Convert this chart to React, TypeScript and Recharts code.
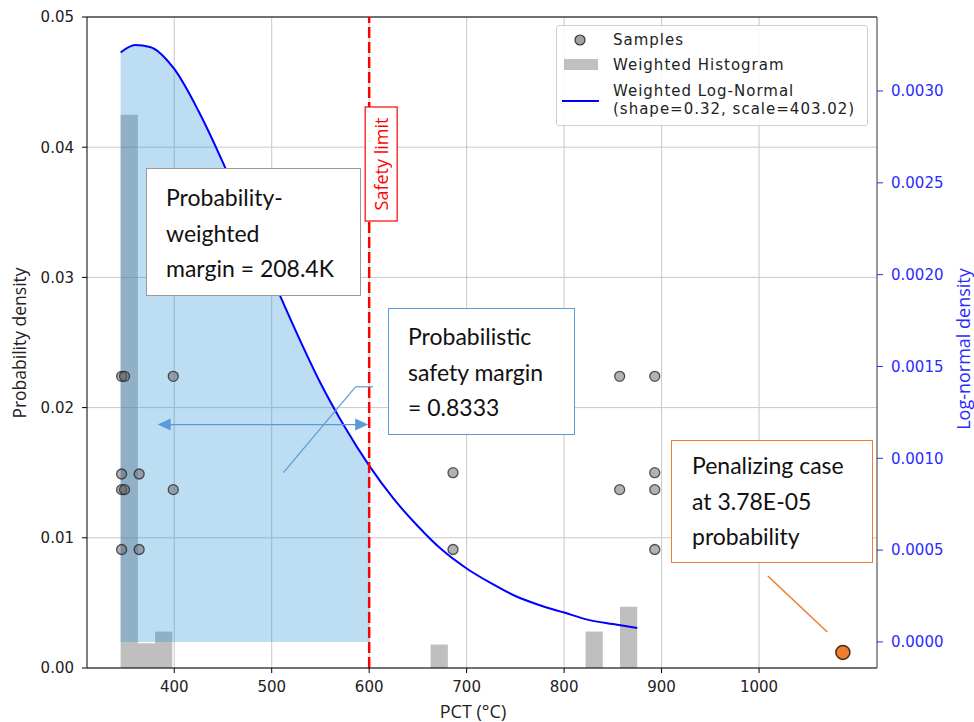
import React from 'react';
import {
  ComposedChart,
  Line,
  Area,
  Scatter,
  XAxis,
  YAxis,
  CartesianGrid,
  ReferenceArea,
  ReferenceLine,
} from 'recharts';

// axis ticks
const pctTicks = [400, 500, 600, 700, 800, 900, 1000];
const densityTicks = [0, 0.01, 0.02, 0.03, 0.04, 0.05];
const logNormalTicks = [0, 0.0005, 0.001, 0.0015, 0.002, 0.0025, 0.003];

// weighted log-normal curve
const curvePct = [345, 360, 375, 400, 425, 450, 475, 500, 525, 550, 575, 600, 625, 650, 675, 700, 725, 750, 775, 800, 825, 850, 875];
const curveDensity = [0.00321, 0.00325, 0.00324, 0.00312, 0.00289, 0.00261, 0.0023, 0.00199, 0.00169, 0.00141, 0.00117, 0.00096, 0.00078, 0.00063, 0.0005, 0.0004, 0.00032, 0.00025, 0.0002, 0.00016, 0.00012, 0.000097, 0.000076];

// samples (left axis)
const samplePct = [346, 349, 399, 346, 364, 346, 349, 399, 346, 364, 686, 686, 857, 857, 893, 893, 893, 893];
const sampleDensity = [0.0224, 0.0224, 0.0224, 0.0149, 0.0149, 0.0137, 0.0137, 0.0137, 0.0091, 0.0091, 0.015, 0.0091, 0.0224, 0.0137, 0.0224, 0.015, 0.0137, 0.0091];

// weighted histogram bins
const binStart = [345, 362.7, 380.3, 663, 822, 857.3];
const binEnd = [362.7, 380.3, 398, 680.7, 839.7, 875];
const binHeight = [0.0425, 0.0019, 0.0028, 0.0018, 0.0028, 0.0047];

const safetyLimit = 600;
const penalizingPct = [1086];
const penalizingDensity = [0.0012];

// annotation anchors (data coords, left axis)
const marginArrow = [{ x: 383, y: 0.0187 }, { x: 599, y: 0.0187 }];
const leaderA = [{ x: 512, y: 0.015 }, { x: 586, y: 0.0216 }];
const leaderB = [{ x: 586, y: 0.0216 }, { x: 604, y: 0.0216 }];
const penalLeader = [{ x: 1009, y: 0.00706 }, { x: 1070, y: 0.00276 }];

const curve = curvePct.map((x, i) => ({ x, pdf: curveDensity[i] }));
const shaded = curve.filter((d) => d.x <= safetyLimit);
const samples = samplePct.map((x, i) => ({ x, y: sampleDensity[i] }));
const penalizing = penalizingPct.map((x, i) => ({ x, y: penalizingDensity[i] }));

const TICK_FONT = 'DejaVu Sans';
const NOTE_FONT = 'Lato';
const BLUE_NOTE = '#5b9bd5';

const SampleDot = (p: any) => (
  <circle cx={p.cx} cy={p.cy} r={5} fill="#666" fillOpacity={0.5} stroke="#222" strokeOpacity={0.75} strokeWidth={1.3} />
);

const PenalDot = (p: any) => (
  <circle cx={p.cx} cy={p.cy} r={7} fill="#ed7d31" stroke="#4a2a10" strokeWidth={1.5} />
);

const DoubleArrow = (p: any) => {
  const { x1, y1, x2, y2 } = p;
  return (
    <g>
      <line x1={x1 + 8} y1={y1} x2={x2 - 8} y2={y2} stroke={BLUE_NOTE} strokeWidth={1.2} />
      <polygon points={`${x1},${y1} ${x1 + 13},${y1 - 6} ${x1 + 13},${y1 + 6}`} fill={BLUE_NOTE} />
      <polygon points={`${x2},${y2} ${x2 - 13},${y2 - 6} ${x2 - 13},${y2 + 6}`} fill={BLUE_NOTE} />
    </g>
  );
};

const plainLine = (color: string, w: number) => (p: any) => (
  <line x1={p.x1} y1={p.y1} x2={p.x2} y2={p.y2} stroke={color} strokeWidth={w} />
);

const SafetyLabel = (p: any) => {
  const vb = p.viewBox || {};
  const cx = vb.x + 12;
  const cy = vb.y + 147;
  return (
    <g>
      <rect x={cx - 16} y={cy - 57} width={32} height={114} fill="#fff" stroke="#ff0000" strokeWidth={1.2} />
      <text
        x={cx}
        y={cy}
        transform={`rotate(-90 ${cx} ${cy})`}
        textAnchor="middle"
        dominantBaseline="central"
        fontFamily="Open Sans"
        fontSize={18}
        fill="#ff0000"
      >
        Safety limit
      </text>
    </g>
  );
};

const XLabel = (p: any) => {
  const vb = p.viewBox;
  return (
    <text x={vb.x + 386} y={vb.y + 50} textAnchor="middle" fontFamily="Open Sans" fontSize={18} fill="#222">
      PCT (°C)
    </text>
  );
};

const LeftLabel = () => (
  <text x={11} y={335} transform="rotate(-90 11 335)" textAnchor="middle" dominantBaseline="central" fontFamily="Open Sans" fontSize={17.5} fill="#222">
    Probability density
  </text>
);

const RightLabel = () => (
  <text x={955} y={341} transform="rotate(-90 955 341)" textAnchor="middle" dominantBaseline="central" fontFamily="Open Sans" fontSize={18} fill="#2b2bff">
    Log-normal density
  </text>
);

const noteText: React.CSSProperties = {
  position: 'absolute',
  fontFamily: NOTE_FONT,
  fontSize: 23,
  lineHeight: '35.5px',
  color: '#111',
  background: '#fff',
  boxSizing: 'border-box',
  whiteSpace: 'nowrap',
};

const legendText: React.CSSProperties = {
  position: 'absolute',
  left: 56,
  fontFamily: TICK_FONT,
  fontSize: 15,
  letterSpacing: 1,
  color: '#222',
  lineHeight: '18px',
  whiteSpace: 'nowrap',
};

export default function App() {
  // absolute so the 8px body margin below the chart does not add a scrollbar
  return (
    <div style={{ position: 'absolute', left: 8, top: 8, width: 966, height: 714 }}>
      <ComposedChart width={966} height={714} margin={{ top: 9, right: 0, bottom: 0, left: 0 }}>
        <CartesianGrid yAxisId="left" stroke="#c8c8c8" strokeWidth={1} verticalValues={pctTicks} horizontalValues={densityTicks} />
        <XAxis
          type="number"
          dataKey="x"
          domain={[310.5, 1121]}
          ticks={pctTicks}
          allowDataOverflow
          height={54}
          tickSize={5}
          tickMargin={8}
          stroke="#000"
          tick={{ fontFamily: TICK_FONT, fontSize: 15, fill: '#222' }}
          label={{ content: XLabel }}
        />
        <YAxis
          yAxisId="left"
          type="number"
          domain={[0, 0.05]}
          ticks={densityTicks}
          allowDataOverflow
          width={79}
          tickSize={5}
          tickMargin={8}
          stroke="#000"
          tickFormatter={(v: number) => v.toFixed(2)}
          tick={{ fontFamily: TICK_FONT, fontSize: 15, fill: '#222' }}
          label={{ content: LeftLabel }}
        />
        <YAxis
          yAxisId="right"
          orientation="right"
          type="number"
          domain={[-0.000142, 0.003403]}
          ticks={logNormalTicks}
          allowDataOverflow
          width={97}
          tickSize={6}
          tickMargin={8}
          axisLine={{ stroke: '#333' }}
          tickLine={{ stroke: '#2b2bff' }}
          tickFormatter={(v: number) => v.toFixed(4)}
          tick={{ fontFamily: TICK_FONT, fontSize: 15, fill: '#2b2bff' }}
          label={{ content: RightLabel }}
        />
        <ReferenceLine yAxisId="left" y={0.05} stroke="#000" strokeWidth={1} />

        {binStart.map((s, i) => (
          <ReferenceArea
            key={`bin-${i}`}
            yAxisId="left"
            x1={s}
            x2={binEnd[i]}
            y1={0}
            y2={binHeight[i]}
            fill="#808080"
            fillOpacity={0.5}
            stroke="none"
          />
        ))}

        <Scatter yAxisId="left" data={samples} dataKey="y" shape={SampleDot} isAnimationActive={false} />

        <Area
          yAxisId="right"
          data={shaded}
          dataKey="pdf"
          type="monotone"
          stroke="none"
          fill="#2390d8"
          fillOpacity={0.3}
          baseValue={0}
          isAnimationActive={false}
        />
        <Line
          yAxisId="right"
          data={curve}
          dataKey="pdf"
          type="monotone"
          stroke="#0000ff"
          strokeWidth={2}
          dot={false}
          isAnimationActive={false}
        />

        <ReferenceLine
          yAxisId="left"
          x={safetyLimit}
          stroke="#ff0000"
          strokeWidth={2.5}
          strokeDasharray="11 4"
          label={{ content: SafetyLabel }}
        />

        <ReferenceLine yAxisId="left" segment={marginArrow} shape={DoubleArrow} />
        <ReferenceLine yAxisId="left" segment={leaderA} shape={plainLine(BLUE_NOTE, 1.2)} />
        <ReferenceLine yAxisId="left" segment={leaderB} shape={plainLine(BLUE_NOTE, 1.2)} />
        <ReferenceLine yAxisId="left" segment={penalLeader} shape={plainLine('#ed7d31', 1.5)} />

        <Scatter yAxisId="left" data={penalizing} dataKey="y" shape={PenalDot} isAnimationActive={false} />
      </ComposedChart>

      {/* legend */}
      <div
        style={{
          position: 'absolute',
          left: 548,
          top: 17,
          width: 312,
          height: 101,
          border: '1px solid #d0d0d0',
          borderRadius: 3,
          background: 'rgba(255,255,255,0.85)',
          boxSizing: 'border-box',
        }}
      >
        <svg width={310} height={99} style={{ position: 'absolute', left: 0, top: 0 }}>
          <circle cx={23} cy={14} r={5} fill="#666" fillOpacity={0.6} stroke="#333" strokeWidth={1.2} />
          <rect x={7} y={33} width={34} height={11} fill="#c0c0c0" />
          <line x1={5} y1={75} x2={42} y2={75} stroke="#0000ff" strokeWidth={2} />
        </svg>
        <div style={{ ...legendText, top: 5 }}>Samples</div>
        <div style={{ ...legendText, top: 30 }}>Weighted Histogram</div>
        <div style={{ ...legendText, top: 56 }}>
          Weighted Log-Normal
          <br />
          (shape=0.32, scale=403.02)
        </div>
      </div>

      {/* annotation boxes */}
      <div style={{ ...noteText, left: 138, top: 160, width: 215, height: 128, border: '1px solid #999', padding: '11px 0 0 19px' }}>
        Probability-
        <br />
        weighted
        <br />
        margin = 208.4K
      </div>
      <div style={{ ...noteText, left: 380, top: 300, width: 187, height: 127, border: `1.5px solid ${BLUE_NOTE}`, padding: '10px 0 0 19px' }}>
        Probabilistic
        <br />
        safety margin
        <br />= 0.8333
      </div>
      <div style={{ ...noteText, left: 663, top: 432, width: 202, height: 123, border: '1.5px solid #ed7d31', padding: '7px 0 0 20px' }}>
        Penalizing case
        <br />
        at 3.78E-05
        <br />
        probability
      </div>
    </div>
  );
}
